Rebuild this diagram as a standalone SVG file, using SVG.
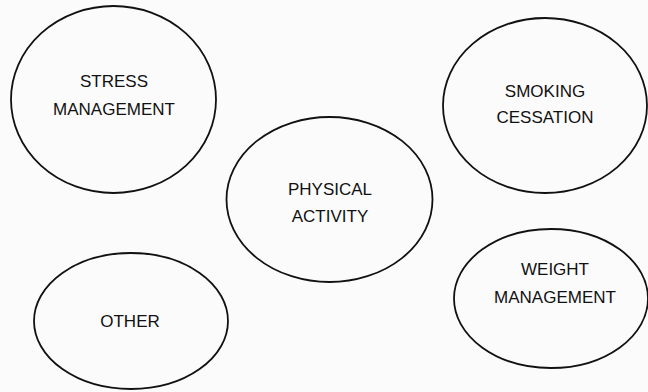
<svg xmlns="http://www.w3.org/2000/svg" width="648" height="392" viewBox="0 0 648 392">
<style>
.n ellipse{fill:none;stroke:#111;stroke-width:1.8}
.n text{font-family:"Liberation Sans",Arial,sans-serif;font-size:17px;fill:#111;text-anchor:middle}
</style>
<rect width="648" height="392" fill="#fbfbfb"/>
<g id="connectors"/>
<g id="stress" class="n">
<ellipse cx="113.5" cy="99.5" rx="102.5" ry="93.5"/>
<text x="114" y="87">STRESS</text>
<text x="114" y="115">MANAGEMENT</text>
</g>
<g id="smoking" class="n">
<ellipse cx="545" cy="105.5" rx="102" ry="87.5"/>
<text x="545" y="97">SMOKING</text>
<text x="545" y="123">CESSATION</text>
</g>
<g id="physical" class="n">
<ellipse cx="329.5" cy="199.5" rx="103" ry="82.5"/>
<text x="330" y="195">PHYSICAL</text>
<text x="330" y="222">ACTIVITY</text>
</g>
<g id="other" class="n">
<ellipse cx="131" cy="321" rx="97" ry="68"/>
<text x="130" y="327">OTHER</text>
</g>
<g id="weight" class="n">
<ellipse cx="551" cy="298.5" rx="97" ry="69.5"/>
<text x="555" y="275">WEIGHT</text>
<text x="555" y="303">MANAGEMENT</text>
</g>
</svg>
